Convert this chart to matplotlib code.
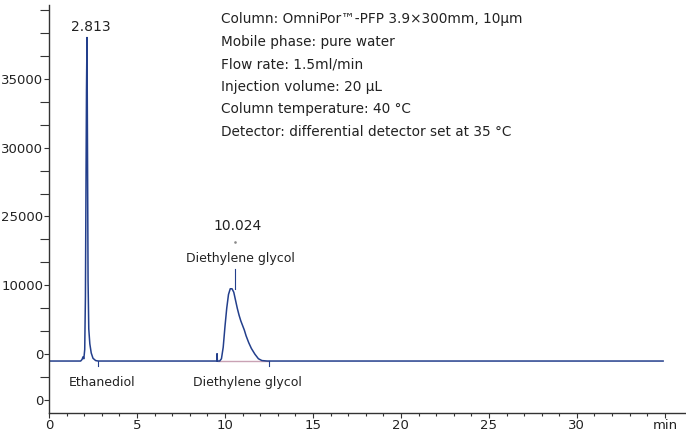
import matplotlib
matplotlib.use("Agg")
import matplotlib.pyplot as plt

# chromatogram trace (time in min, signal in arbitrary units)
time = [0.0, 1.80, 1.88, 1.93, 1.98, 2.03, 2.07, 2.10, 2.13, 2.16, 2.19, 2.22, 2.26,
        2.32, 2.40, 2.50, 2.65, 2.80, 9.50, 9.54, 9.55, 9.57, 9.70, 9.80, 9.90, 10.00,
        10.10, 10.20, 10.30, 10.40, 10.50, 10.60, 10.70, 10.80, 10.90, 11.00, 11.10,
        11.20, 11.35, 11.50, 11.70, 11.90, 12.10, 12.40, 34.90]
signal = [-300, -300, -230, -120, -200, 200, 2500, 7000, 11500, 13800, 8500, 3200, 1100,
          450, 50, -180, -280, -300, -300, -300, 20, -300, -300, -200, 300, 1200,
          2000, 2600, 2850, 2850, 2700, 2350, 2000, 1700, 1450, 1250, 1050,
          800, 500, 250, 0, -200, -280, -300, -300]

# integration baseline and markers
int_start, int_end, int_level = 9.6, 12.5, -300
cut_marks = [2.8, 12.5]

peak_rt = ["2.813", "10.024"]
names = ["Ethanediol", "Diethylene glycol"]

yticks_major = [12000, 9000, 6000, 3000, 0, -2000]
ytick_labels = ["35000", "30000", "25000", "10000", "0", "0"]
yticks_minor = [k * 1000 for k in range(-1, 16) if k * 1000 not in yticks_major]

info = [
    "Column: OmniPor\u2122-PFP 3.9\u00d7300mm, 10\u00b5m",
    "Mobile phase: pure water",
    "Flow rate: 1.5ml/min",
    "Injection volume: 20 \u00b5L",
    "Column temperature: 40 \u00b0C",
    "Detector: differential detector set at 35 \u00b0C",
]

plt.rcParams["font.family"] = ["DejaVu Sans"]
line_c = "#233f8c"
text_c = "#222222"

fig = plt.figure(figsize=(6.86, 4.32), dpi=100)
ax = fig.add_axes([49 / 686, 19 / 432, 1 - 49 / 686, 407.6 / 432])
ax.set_xlim(0, 36.2)
ax.set_ylim(-2565, 15200)

ax.plot([int_start, int_end], [int_level, int_level], color="#c9a2b4", lw=1.0)
ax.plot(time, signal, color=line_c, lw=1.1)
for t in cut_marks:
    ax.plot([t, t], [int_level, int_level - 200], color=line_c, lw=0.8)

# retention time marker of the second peak
ax.plot([10.57, 10.57], [2850, 3700], color=line_c, lw=0.8)
ax.plot([10.57], [4900], marker="s", ms=0.8, color="#888888")

ax.text(2.39, 14250, peak_rt[0], ha="center", va="center", fontsize=10, color=text_c)
ax.text(10.7, 5600, peak_rt[1], ha="center", va="center", fontsize=10, color=text_c)
ax.text(10.9, 4170, names[1], ha="center", va="center", fontsize=9, color=text_c)
ax.text(3.0, -1220, names[0], ha="center", va="center", fontsize=9, color=text_c)
ax.text(11.25, -1220, names[1], ha="center", va="center", fontsize=9, color=text_c)

for i, s in enumerate(info):
    fig.text(221 / 686, 1 - (19 + i * 22.6) / 432, s, ha="left", va="center",
             fontsize=9.8, color=text_c)

for sp in ("top", "right"):
    ax.spines[sp].set_visible(False)
for sp in ("left", "bottom"):
    ax.spines[sp].set_color("#333333")
    ax.spines[sp].set_linewidth(1.0)

ax.set_yticks(yticks_major)
ax.set_yticklabels(ytick_labels)
ax.set_yticks(yticks_minor, minor=True)
ax.tick_params(axis="y", which="major", length=3.5, width=0.8, labelsize=9.5,
               pad=0.5, colors="#333333", labelcolor=text_c)
ax.tick_params(axis="y", which="minor", length=6.5, width=0.8, colors="#333333")

ax.set_xticks([0, 5, 10, 15, 20, 25, 30, 35])
ax.set_xticklabels(["0", "5", "10", "15", "20", "25", "30", "min"])
ax.set_xticks([m for m in range(0, 36) if m % 5], minor=True)
ax.tick_params(axis="x", which="major", length=3.6, width=0.8, labelsize=9.5,
               pad=0.5, colors="#333333", labelcolor=text_c)
ax.tick_params(axis="x", which="minor", length=2.2, width=0.8, colors="#333333")

fig.savefig("out.png", dpi=100)
